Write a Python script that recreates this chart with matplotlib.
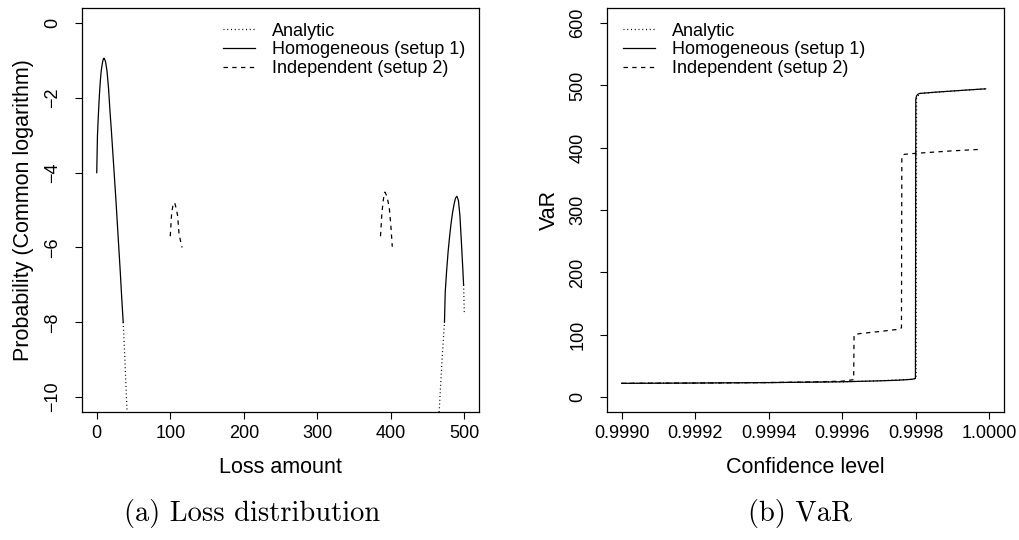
import numpy as np
from matplotlib import pyplot as plt

plt.rcParams['font.family'] = ['Liberation Sans', 'DejaVu Sans']

# (a) log10 probability of the loss amount
loss_h1 = [0, 1, 2, 3, 4, 5, 6, 7, 8, 9, 10, 12, 14, 16, 18, 20, 22, 24, 26, 28, 30, 32, 34, 36]
logp_h1 = [-4.0, -3.0, -2.55, -2.15, -1.8, -1.52, -1.3, -1.15, -1.04, -0.96, -0.94, -1.03, -1.29,
           -1.73, -2.35, -2.9, -3.5, -4.1, -4.7, -5.35, -6.0, -6.65, -7.35, -8.0]
loss_h2 = [473, 474, 476, 478, 480, 482, 484, 486, 488, 490, 492, 494, 496, 498, 499]
logp_h2 = [-8.0, -7.2, -6.6, -6.1, -5.7, -5.35, -5.07, -4.85, -4.68, -4.63, -4.75, -5.15,
           -5.85, -6.6, -7.0]

loss_a1 = [36, 38, 40, 42]
logp_a1 = [-8.0, -8.85, -9.8, -10.75]
loss_a2 = [465, 466, 468, 470, 472, 473]
logp_a2 = [-10.6, -10.3, -9.6, -8.9, -8.3, -8.0]
loss_a3 = [499, 500]
logp_a3 = [-7.0, -7.8]

loss_i1 = [100, 102, 104, 106, 108, 110, 112, 116]
logp_i1 = [-5.7, -5.05, -4.85, -4.8, -4.95, -5.15, -5.65, -6.0]
loss_i2 = [386, 388, 390, 392, 394, 396, 398, 400, 402]
logp_i2 = [-5.7, -5.05, -4.7, -4.52, -4.6, -4.75, -4.95, -5.4, -5.98]

# (b) VaR against confidence level
conf_a = [0.9990, 0.9994, 0.9996, 0.9997, 0.99979, 0.999801, 0.999802, 0.99981, 0.9999, 0.99999]
var_a = [22, 23.2, 24.5, 26, 28.5, 30, 479, 487, 491, 494.5]
conf_h = [0.9990, 0.9992, 0.9994, 0.9996, 0.9997, 0.99975, 0.99979, 0.999799, 0.999800,
          0.999802, 0.999805, 0.99981, 0.99985, 0.99990, 0.99995, 0.99999]
var_h = [22, 22.5, 23.2, 24.5, 26, 27, 28.5, 30, 478, 483, 485.5, 487, 489, 491, 493, 494.5]
conf_i = [0.9990, 0.9992, 0.9994, 0.9995, 0.9996, 0.99962, 0.999631, 0.999632, 0.999634,
          0.99965, 0.9997, 0.99975, 0.999761, 0.999762, 0.999765, 0.99977, 0.9998, 0.99985,
          0.9999, 0.99998]
var_i = [22, 22.5, 23.3, 24, 25.5, 27, 28, 98, 100.5, 102, 105, 108.5, 111, 386, 388.5,
         389.5, 391, 393, 395, 397.5]

labels = ['Analytic', 'Homogeneous (setup 1)', 'Independent (setup 2)']
dot = (0, (0.8, 2.2))
dash = (0, (3.5, 3.5))
lw = 0.9


def style(ax):
    ax.tick_params(direction='out', length=5, width=0.8, labelsize=13, pad=4)
    ax.tick_params(axis='y', labelrotation=90, pad=10)
    for lbl in ax.get_yticklabels():
        lbl.set_va('center')
    for s in ax.spines.values():
        s.set_linewidth(0.9)


def legend(ax, x):
    ax.legend(labels, loc='upper left', bbox_to_anchor=(x, 0.964), frameon=False,
              fontsize=13, handlelength=1.8, handletextpad=0.9, labelspacing=0.1,
              borderpad=0, borderaxespad=0)


fig = plt.figure(figsize=(10.19, 5.4), dpi=100)

ax = fig.add_axes([0.0805, 0.237, 0.3896, 0.748])
ax.plot(loss_a1, logp_a1, color='k', lw=lw, ls=dot)
ax.plot(loss_h1, logp_h1, color='k', lw=lw)
ax.plot(loss_i1, logp_i1, color='k', lw=lw, ls=dash)
for x, y in [(loss_a2, logp_a2), (loss_a3, logp_a3)]:
    ax.plot(x, y, color='k', lw=lw, ls=dot)
ax.plot(loss_h2, logp_h2, color='k', lw=lw)
ax.plot(loss_i2, logp_i2, color='k', lw=lw, ls=dash)
ax.set_xlim(-20, 520)
ax.set_ylim(-10.4, 0.4)
ax.set_xticks(range(0, 501, 100))
ax.set_yticks(range(-10, 1, 2))
ax.set_xlabel('Loss amount', fontsize=15.5, labelpad=11)
ax.set_ylabel('Probability (Common logarithm)', fontsize=15.5, labelpad=7)
style(ax)
legend(ax, 0.355)

ah = fig.add_axes([0.5957, 0.237, 0.3896, 0.748])
ah.plot(conf_a, var_a, color='k', lw=lw, ls=dot)
ah.plot(conf_h, var_h, color='k', lw=lw)
ah.plot(conf_i, var_i, color='k', lw=lw, ls=dash)
ah.set_xlim(0.99896, 1.00004)
ah.set_ylim(-24, 624)
ah.set_xticks(np.arange(0.9990, 1.00001, 0.0002))
ah.set_xticklabels(['%.4f' % v for v in np.arange(0.9990, 1.00001, 0.0002)])
ah.set_yticks(range(0, 601, 100))
ah.set_xlabel('Confidence level', fontsize=15.5, labelpad=11)
ah.set_ylabel('VaR', fontsize=15.5, labelpad=7)
style(ah)
legend(ah, 0.04)

fig.text(0.247, 0.036, '(a) Loss distribution', family='cmr10', fontsize=20.5, ha='center')
fig.text(0.785, 0.036, '(b) VaR', family='cmr10', fontsize=20.5, ha='center')

fig.savefig('out.png', dpi=100)
